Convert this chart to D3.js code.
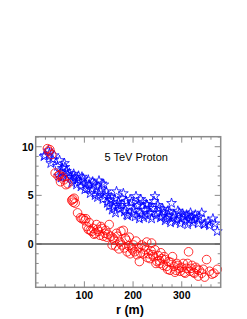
<!DOCTYPE html>
<html>
<head>
  <meta charset="utf-8">
  <title>5 TeV Proton</title>
  <script src="https://d3js.org/d3.v7.min.js"></script>
  <style>
    body { margin: 0; background: #fff; }
    svg { display: block; font-family: "Liberation Sans", Arial, sans-serif; }
  </style>
  <script type="text/javascript">
    // blue stars
    var blueR = [17, 19, 26, 28, 31, 38, 35,
      45, 49, 52, 55, 59, 60, 47, 52, 56, 63, 66, 69,
      72, 74, 76, 78, 81, 84, 86, 88, 91, 93, 95, 98,
      101, 103, 106, 108, 110, 112, 115, 117, 120, 122, 125, 127, 129, 130,
      133, 136, 138, 140, 142, 145, 147, 149, 151, 153, 155, 157, 160,
      162, 164, 166, 168, 170, 172, 175, 177, 180, 182, 184, 186, 187, 189, 192, 194, 197, 199,
      202, 204, 206, 208, 211, 213, 214, 216, 218, 220, 222, 225, 227, 229, 231, 233, 235, 238, 240,
      243, 245, 247, 249, 251, 254, 256, 259, 261, 264, 266, 269, 271, 273, 275, 277, 279,
      282, 284, 287, 290, 292, 295, 297, 300, 302, 305, 307, 310, 312, 314, 316, 318,
      321, 323, 326, 328, 331, 334, 336, 341, 346, 348, 354, 357, 364, 368, 373];
    var blueV = [9.0, 9.1, 9.6, 9.3, 8.3, 9.1, 8.7,
      8.0, 8.6, 7.4, 7.8, 8.3, 7.9, 7.0, 6.8, 6.9, 7.5, 7.1, 7.3,
      6.9, 6.3, 6.6, 7.2, 6.9, 6.1, 6.6, 7.0, 6.4, 5.9, 6.9, 6.7,
      5.6, 6.2, 5.7, 6.6, 6.1, 5.2, 5.6, 6.4, 6.2, 5.0, 5.9, 4.8, 5.2, 6.5,
      5.5, 6.2, 4.6, 6.1, 5.0, 5.4, 4.2, 5.0, 3.9, 4.5, 4.8, 3.5, 3.8,
      4.6, 3.2, 5.4, 4.0, 4.3, 3.6, 4.0, 4.7, 5.2, 3.3, 3.5, 4.4, 3.0, 2.9, 3.8, 4.6, 4.3, 3.1,
      3.5, 2.8, 4.9, 3.9, 4.0, 2.6, 3.2, 4.6, 3.0, 4.3, 2.7, 3.5, 4.1, 4.0, 2.9, 3.7, 3.2, 2.6, 3.7,
      4.4, 4.9, 2.9, 3.2, 4.0, 3.7, 2.7, 2.8, 3.6, 3.3, 2.4, 2.6, 3.4, 2.9, 3.3, 2.2, 4.2,
      2.7, 3.0, 2.3, 2.5, 3.4, 3.2, 2.1, 2.6, 3.1, 2.8, 2.3, 3.0, 2.0, 2.9, 2.5, 3.2,
      2.8, 2.2, 2.5, 3.0, 2.6, 2.1, 2.8, 3.2, 2.0, 2.1, 2.3, 1.9, 2.6, 2.1, 1.3];

    // red circles
    var redR = [24, 27, 29, 33, 40, 46, 49, 51, 55, 58, 62, 66, 74, 76, 77, 79, 81, 86,
      92, 95, 98, 101, 103, 105, 108, 110, 112, 115, 118, 120, 122, 125, 127, 129,
      132, 134, 136, 139, 142, 144, 146, 148, 151, 154, 157, 159, 161, 164, 166, 168,
      171, 173, 175, 177, 180, 182, 184, 186, 188, 191, 192, 194, 197, 199,
      201, 203, 206, 208, 211, 213, 215, 218, 221, 223, 225, 228, 230, 232, 235, 237, 238, 240,
      242, 245, 247, 249, 252, 254, 255, 257, 259, 262, 264, 266, 269, 271, 273, 276, 278,
      281, 284, 286, 288, 290, 292, 295, 297, 300, 303, 305, 307, 310, 312, 314, 317, 319,
      321, 324, 326, 329, 331, 334, 336, 341, 344, 347, 351, 357, 362, 366, 373];
    var redV = [9.8, 9.5, 9.7, 9.2, 7.3, 7.0, 7.1, 6.4, 6.9, 6.6, 6.1, 6.2, 4.5, 4.6, 4.3, 4.7, 4.2, 3.2,
      2.7, 2.6, 2.6, 2.4, 2.6, 1.8, 1.5, 2.2, 1.4, 1.3, 1.6, 1.0, 1.1, 2.0, 1.5, 1.3,
      0.9, 1.8, 1.6, 0.8, 1.1, 1.4, 0.7, 1.0, 2.0, 0.8, -0.1, 0.6, 0.4, -0.2, 1.1, 0.8,
      -0.5, 0.2, 1.3, -0.1, 1.4, -0.4, 0.6, 0.4, -0.8, -0.2, 0.7, -1.0, -0.4, -0.6,
      -0.1, -0.8, 0.3, -1.1, -0.4, -1.8, -0.9, -0.1, -1.0, -0.3, -0.6, 0.2, -1.4, -1.0, -1.5, -0.7, 0.1, -1.1,
      -1.3, -0.6, -2.0, -1.8, -1.2, -1.7, -2.0, -0.9, -1.5, -2.2, -1.3, -1.6, -2.3, -2.6, -1.8, -2.7, -1.9,
      -1.3, -2.3, -2.9, -2.7, -2.0, -2.2, -2.5, -2.8, -2.4, -2.0, -2.9, -3.0, -2.5, -2.0, -0.8, -2.8, -2.5,
      -2.2, -2.9, -3.0, -2.4, -2.6, -3.3, -2.7, -3.0, -2.6, -3.4, -1.6, -2.8, -3.1, -3.0, -2.6];

    var yTicks = [0, 5, 10];
    var xTicks = [100, 200, 300];

    function draw() {
      "use strict";
      var W = 247, H = 319;
      var left = 35.7, right = 220.7, top = 136.7, bottom = 287.3;
      var frameColor = "#8a8a8a";

      var svg = d3.select("body").append("svg")
        .attr("width", W)
        .attr("height", H);

      var x = d3.scaleLinear().domain([0, 380]).range([left, right]);
      var y = d3.scaleLinear().domain([-4.45, 11.03]).range([bottom, top]);

      /**
       * ticks on all four sides, pointing inward
       */
      var g = svg.append("g");
      d3.range(-4, 12, 1).forEach(function (v) {
        var len = (v % 5 === 0) ? 6 : 3;
        g.append("line").attr("x1", left).attr("x2", left + len)
          .attr("y1", y(v)).attr("y2", y(v));
        g.append("line").attr("x1", right).attr("x2", right - len)
          .attr("y1", y(v)).attr("y2", y(v));
      });
      d3.range(20, 380, 20).forEach(function (v) {
        var len = (v % 100 === 0) ? 6 : 3;
        g.append("line").attr("y1", bottom).attr("y2", bottom - len)
          .attr("x1", x(v)).attr("x2", x(v));
        g.append("line").attr("y1", top).attr("y2", top + len)
          .attr("x1", x(v)).attr("x2", x(v));
      });
      g.selectAll("line").attr("stroke", frameColor).attr("stroke-width", 1);

      // zero line
      svg.append("line")
        .attr("x1", left).attr("x2", right)
        .attr("y1", y(0)).attr("y2", y(0))
        .attr("stroke", "#555").attr("stroke-width", 1.5);

      // tick labels
      svg.selectAll(".ylab").data(yTicks).enter().append("text")
        .attr("x", left - 2)
        .attr("y", function (d) { return y(d) + 4; })
        .attr("text-anchor", "end")
        .style("font-size", "10.5px").style("font-weight", "bold")
        .text(function (d) { return d; });

      svg.selectAll(".xlab").data(xTicks).enter().append("text")
        .attr("x", function (d) { return x(d); })
        .attr("y", bottom + 11.5)
        .attr("text-anchor", "middle")
        .style("font-size", "10.5px").style("font-weight", "bold")
        .text(function (d) { return d; });

      svg.append("text")
        .attr("x", 130).attr("y", 314)
        .attr("text-anchor", "middle")
        .style("font-size", "12.5px").style("font-weight", "bold")
        .text("r (m)");

      svg.append("text")
        .attr("x", 104.5).attr("y", 160.5)
        .style("font-size", "11px")
        .text("5 TeV Proton");

      /**
       * markers
       */
      var star = d3.symbol().type(d3.symbolStar).size(30);
      svg.selectAll(".star").data(d3.range(blueR.length)).enter().append("path")
        .attr("d", star)
        .attr("transform", function (i) { return "translate(" + x(blueR[i]) + "," + y(blueV[i]) + ")"; })
        .attr("fill", "none")
        .attr("stroke", "#0000ff")
        .attr("stroke-width", 0.8);

      svg.selectAll(".circ").data(d3.range(redR.length)).enter().append("circle")
        .attr("cx", function (i) { return x(redR[i]); })
        .attr("cy", function (i) { return y(redV[i]); })
        .attr("r", 4.3)
        .attr("fill", "none")
        .attr("stroke", "#ff0000")
        .attr("stroke-width", 0.8);

      // frame
      svg.append("rect")
        .attr("x", left).attr("y", top)
        .attr("width", right - left).attr("height", bottom - top)
        .attr("fill", "none")
        .attr("stroke", frameColor).attr("stroke-width", 1.5);
    }
  </script>
</head>
<body>
  <script type="text/javascript">
    draw();
  </script>
</body>
</html>
